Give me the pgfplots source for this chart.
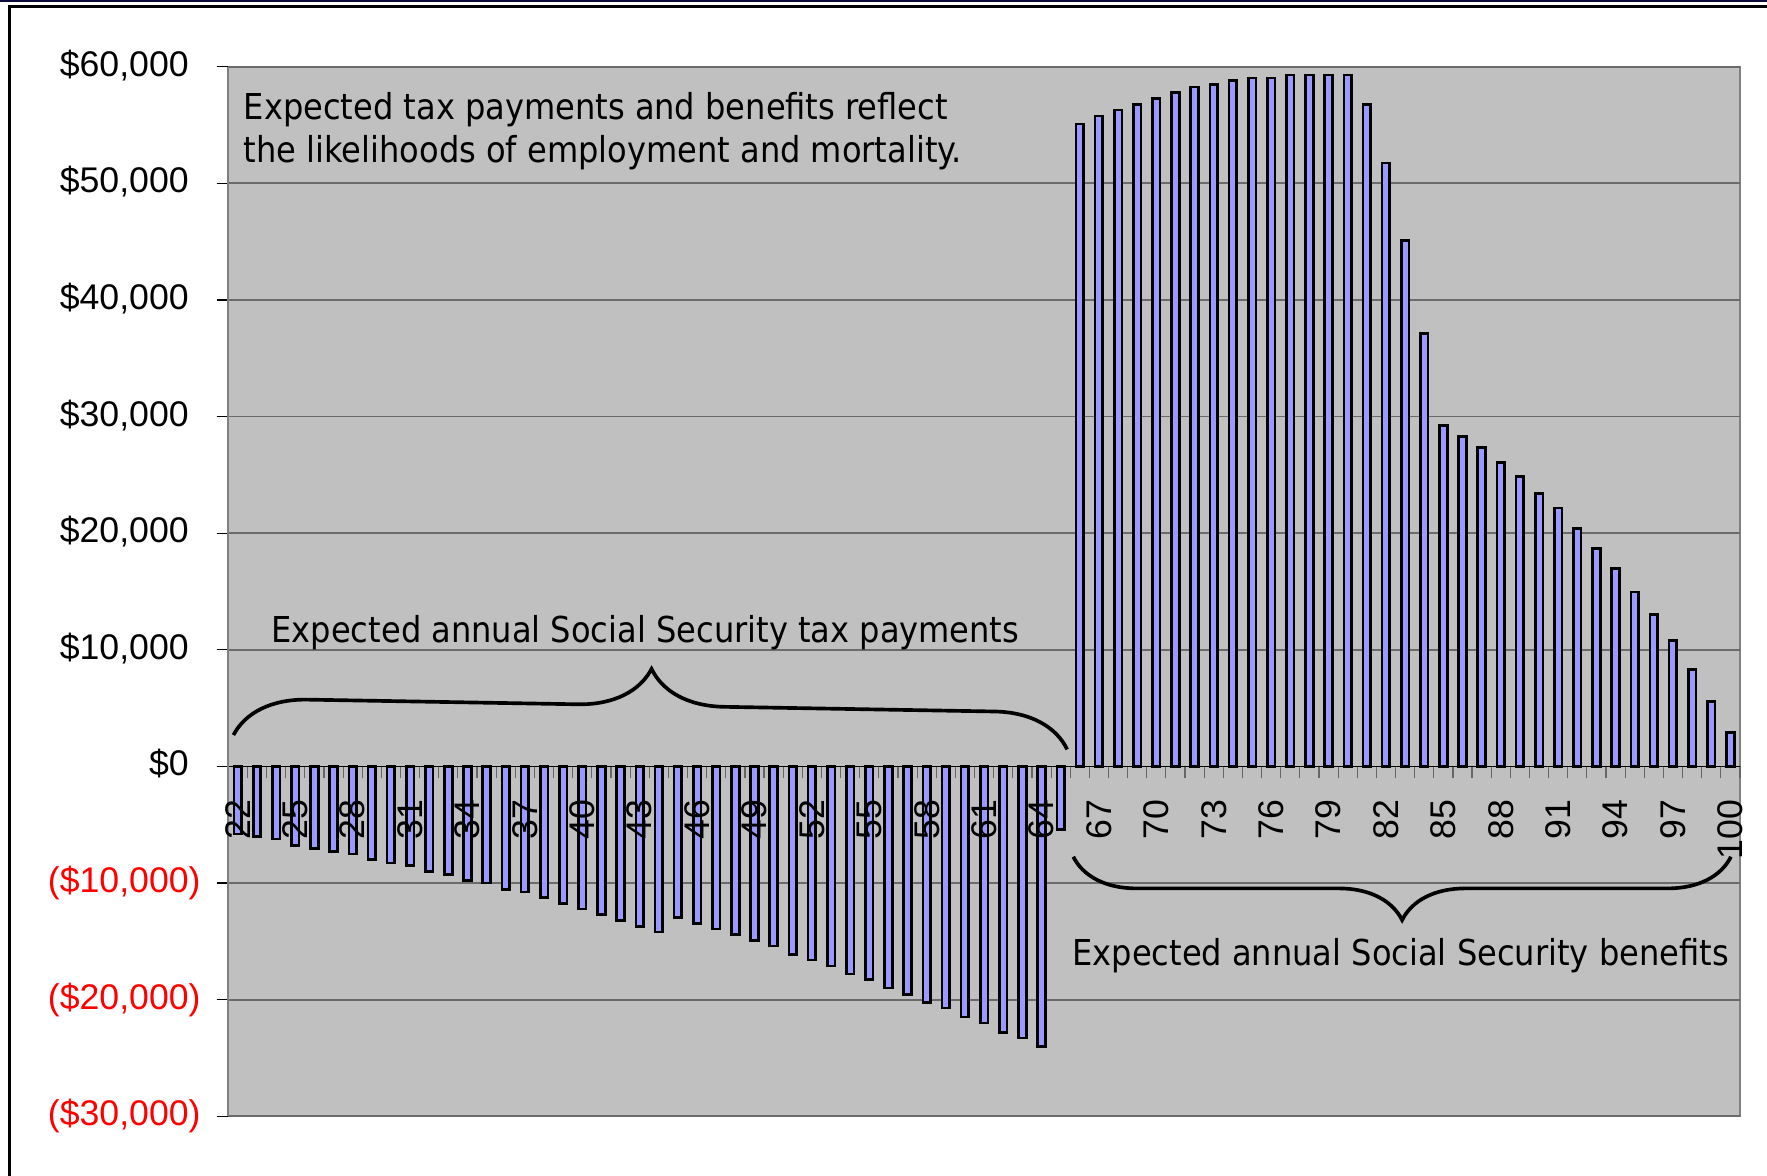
\documentclass[border=0pt]{standalone}
\usepackage{pgfplots}
\pgfplotsset{compat=1.18}
\usepackage{pgfplotstable}
\usepackage{fontspec}
\setmainfont{Liberation Sans}
\newfontfamily\tah{DejaVu Sans Condensed}
\usetikzlibrary{decorations.pathreplacing}
\definecolor{plotbg}{RGB}{192,192,192}
\definecolor{barblue}{RGB}{153,153,255}
\definecolor{framegray}{RGB}{128,128,128}
\definecolor{navyline}{RGB}{10,10,60}
\definecolor{xlred}{RGB}{255,0,0}
\pgfplotsset{
  geom/.style={
    at={(68.49pt,17.91pt)}, anchor=south west,
    scale only axis, width=453.5pt, height=314.88pt,
    xmin=21.5, xmax=100.5, ymin=-30000, ymax=60000,
  },
}

\pgfplotstableread{
age value
22 -5800
23 -6000
24 -6230
25 -6800
26 -7030
27 -7290
28 -7510
29 -8000
30 -8290
31 -8510
32 -9000
33 -9290
34 -9770
35 -10000
36 -10560
37 -10760
38 -11240
39 -11750
40 -12230
41 -12700
42 -13210
43 -13720
44 -14200
45 -12960
46 -13440
47 -13940
48 -14420
49 -14930
50 -15410
51 -16110
52 -16590
53 -17100
54 -17800
55 -18280
56 -19010
57 -19550
58 -20250
59 -20700
60 -21500
61 -22000
62 -22800
63 -23300
64 -24000
65 -5400
66 55100
67 55760
68 56280
69 56770
70 57260
71 57780
72 58270
73 58500
74 58790
75 59020
76 59020
77 59280
78 59280
79 59280
80 59280
81 56770
82 51730
83 45100
84 37100
85 29240
86 28280
87 27320
88 26060
89 24870
90 23380
91 22170
92 20420
93 18700
94 16970
95 14960
96 13000
97 10780
98 8290
99 5570
100 2890
}\datatable

\begin{document}
\begin{tikzpicture}
\useasboundingbox (0,0) rectangle (530.1pt,352.8pt);
\fill[navyline] (0,352.8pt) rectangle (530.1pt,352.2pt);
\draw[black, line width=0.9pt] (2.4pt,350.9pt) -- (530.1pt,350.9pt);
\draw[black, line width=0.9pt] (2.85pt,0) -- (2.85pt,351.35pt);
\begin{axis}[
  geom,
  clip=false,
  scaled y ticks=false,
  axis y line*=left, axis x line*=middle,
  axis background/.style={fill=plotbg, draw=framegray, line width=0.7pt},
  ytick={-30000,-20000,...,60000},
  yticklabels={{\color{xlred}(\$30,000)},{\color{xlred}(\$20,000)},{\color{xlred}(\$10,000)},{\$0\phantom{)}},{\$10,000\phantom{)}},{\$20,000\phantom{)}},{\$30,000\phantom{)}},{\$40,000\phantom{)}},{\$50,000\phantom{)}},{\$60,000\phantom{)}}},
  yticklabel style={font=\fontsize{10.7}{12}\selectfont, anchor=east, inner sep=0pt, xshift=-4.6pt},
  ymajorgrids, major grid style={black!58, line width=0.55pt},
  xtick={22,25,...,100},
  xticklabels={},
  minor xtick={21.5,22.5,...,100.5},
  tick align=outside,
  major tick length=3.5pt, minor tick length=3.6pt,
  major x tick style={draw=none},
  minor x tick style={draw=black!60, line width=0.35pt},
  major y tick style={black, line width=0.4pt},
  x axis line style={black, line width=0.45pt},
  y axis line style={framegray, line width=0.7pt},
]
\addplot[ybar, bar width=0.40, fill=barblue, draw=black, line width=0.8pt] table[x=age,y=value]{\datatable};

\draw[decorate, decoration={brace, amplitude=22pt}, line width=1.1pt] (axis cs:21.77,2693) -- (axis cs:65.34,1458);
\draw[decorate, decoration={brace, amplitude=19pt, mirror}, line width=1.1pt] (axis cs:65.66,-7743) -- (axis cs:100.03,-7743);

\node[anchor=base west, inner sep=0pt, font=\tah\fontsize{10.7}{12.9}\selectfont] at (axis cs:22.28,55490) {Expected tax payments and benefits reflect};
\node[anchor=base west, inner sep=0pt, font=\tah\fontsize{10.7}{12.9}\selectfont] at (axis cs:22.28,51800) {the likelihoods of employment and mortality.};
\node[anchor=base west, inner sep=0pt, font=\tah\fontsize{10.7}{12.9}\selectfont] at (axis cs:23.73,10640) {Expected annual Social Security tax payments};
\node[anchor=base west, inner sep=0pt, font=\tah\fontsize{10.7}{12.9}\selectfont] at (axis cs:65.58,-17030) {Expected annual Social Security benefits};
\end{axis}
\begin{axis}[
  geom,
  hide y axis,
  axis x line*=middle,
  x axis line style={draw=none},
  xtick={22,25,...,100},
  xticklabels={22,25,28,31,34,37,40,43,46,49,52,55,58,61,64,67,70,73,76,79,82,85,88,91,94,97,100},
  xticklabel style={font=\fontsize{10.7}{12}\selectfont, rotate=90, anchor=east, inner sep=0pt, xshift=-5.6pt},
  tick align=outside,
  major x tick style={draw=none},
]
\end{axis}
\end{tikzpicture}
\end{document}
